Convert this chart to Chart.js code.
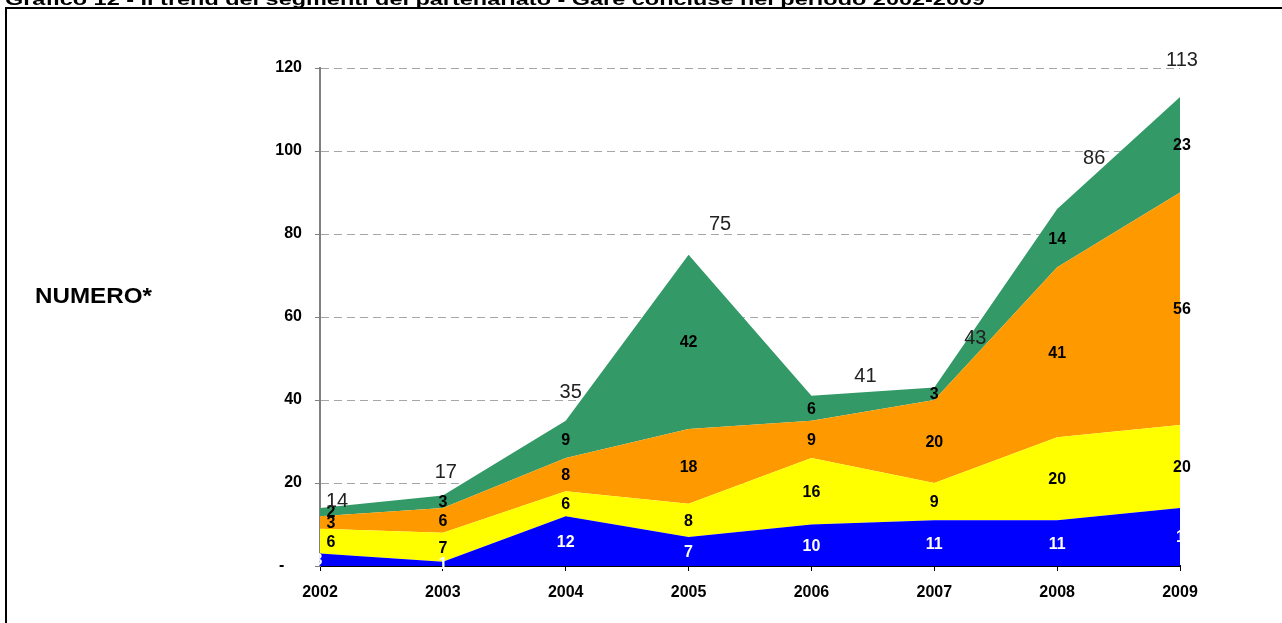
<!DOCTYPE html>
<html>
<head>
<meta charset="utf-8">
<script src="https://cdn.jsdelivr.net/npm/chart.js@4.4.1/dist/chart.umd.min.js"></script>
<style>
  html, body { margin: 0; padding: 0; background: #fff; }
  #wrap { position: relative; width: 1282px; height: 623px; }
</style>
</head>
<body>
<div id="wrap"><canvas id="chart" width="1282" height="623"></canvas></div>
<script>
const years = ['2002', '2003', '2004', '2005', '2006', '2007', '2008', '2009'];
const serieBlu = [3, 1, 12, 7, 10, 11, 11, 14];
const serieGialla = [6, 7, 6, 8, 16, 9, 20, 20];
const serieArancio = [3, 6, 8, 18, 9, 20, 41, 56];
const serieVerde = [2, 3, 9, 42, 6, 3, 14, 23];
const yTicks = [0, 20, 40, 60, 80, 100, 120];

const FONT = '"Liberation Sans", Arial, sans-serif';
const titolo = 'Grafico 12 - Il trend dei segmenti del partenariato - Gare concluse nel periodo 2002-2009';

// nudges for the hand-placed labels (Excel style)
const firstNudge = [-2, 11, 11, 11];
const lastNudge = [5, 2, 2, 2];
const totalNudge = [[17, -6], [3, -23], [5, -28], [31.5, -30], [54, -19], [41, -49], [37, -51], [2, -37]];

const series = [serieBlu, serieGialla, serieArancio, serieVerde];
const colori = ['#0000FF', '#FFFF00', '#FF9900', '#339966'];
const coloriTesto = ['#FFFFFF', '#000000', '#000000', '#000000'];

const decor = {
  id: 'decor',
  beforeDraw(chart) {
    const ctx = chart.ctx;
    ctx.save();
    ctx.fillStyle = '#000';
    ctx.font = 'bold 16px ' + FONT;
    ctx.textBaseline = 'alphabetic';
    const w = ctx.measureText(titolo).width;
    ctx.translate(5, 5);
    ctx.scale(980 / w, 1);
    ctx.fillText(titolo, 0, 0);
    ctx.restore();

    ctx.save();
    ctx.fillStyle = '#000';
    ctx.fillRect(5, 7, 1277, 2);
    ctx.fillRect(5, 7, 2, 616);
    ctx.font = 'bold 22px ' + FONT;
    ctx.textBaseline = 'middle';
    ctx.textAlign = 'left';
    ctx.translate(35, 297);
    ctx.scale(1.1, 1);
    ctx.fillText('NUMERO*', 0, 0);
    ctx.restore();
  },
  afterDatasetsDraw(chart) {
    const ctx = chart.ctx;
    const xs = chart.scales.x, ys = chart.scales.y;
    ctx.save();
    ctx.font = 'bold 16px ' + FONT;
    ctx.textAlign = 'center';
    ctx.textBaseline = 'middle';
    series.forEach((vals, i) => {
      ctx.fillStyle = coloriTesto[i];
      vals.forEach((v, j) => {
        let base = 0;
        for (let k = 0; k < i; k++) base += series[k][j];
        let x = xs.getPixelForValue(j);
        if (j === 0) x += firstNudge[i];
        if (j === vals.length - 1) x += lastNudge[i];
        ctx.fillText(String(v), x, ys.getPixelForValue(base + v / 2) + 1);
      });
    });
    ctx.restore();
  },
  afterDraw(chart) {
    const ctx = chart.ctx;
    const xs = chart.scales.x, ys = chart.scales.y;
    ctx.save();
    ctx.font = '20px ' + FONT;
    ctx.fillStyle = '#222';
    ctx.textAlign = 'center';
    ctx.textBaseline = 'middle';
    years.forEach((y, j) => {
      const tot = series.reduce((s, arr) => s + arr[j], 0);
      const x = xs.getPixelForValue(j) + totalNudge[j][0];
      const yy = ys.getPixelForValue(tot) + totalNudge[j][1];
      ctx.fillText(String(tot), x, yy);
    });
    ctx.restore();
  }
};

new Chart(document.getElementById('chart'), {
  type: 'line',
  data: {
    labels: years,
    datasets: series.map((vals, i) => ({
      label: 'serie ' + (i + 1),
      data: vals,
      backgroundColor: colori[i],
      borderColor: colori[i],
      borderWidth: 0,
      pointRadius: 0,
      tension: 0,
      fill: i === 0 ? 'origin' : '-1'
    }))
  },
  options: {
    responsive: false,
    animation: false,
    layout: { padding: { top: 68, right: 102, left: 0, bottom: 0 } },
    plugins: { legend: { display: false }, tooltip: { enabled: false } },
    scales: {
      x: {
        offset: false,
        z: 1,
        grid: { drawOnChartArea: false, drawTicks: true, tickLength: 5, tickColor: '#000', tickWidth: 1 },
        border: { color: '#000', width: 2 },
        ticks: { color: '#000', font: { family: FONT, size: 16, weight: 'bold' }, padding: 12, maxRotation: 0 },
        afterFit(s) { s.height = 57; }
      },
      y: {
        stacked: true,
        min: 0,
        max: 120,
        afterBuildTicks(s) { s.ticks = yTicks.map(v => ({ value: v })); },
        ticks: {
          color: '#000',
          font: { family: FONT, size: 16, weight: 'bold' },
          padding: 13,
          callback: v => (v === 0 ? '-    ' : String(v))
        },
        grid: { color: '#a6a6a6', lineWidth: 1, tickColor: '#808080', tickLength: 5, tickBorderDash: [] },
        border: { color: '#808080', width: 2, dash: [8, 5] },
        afterFit(s) { s.width = 320; }
      }
    }
  },
  plugins: [decor]
});
</script>
</body>
</html>
